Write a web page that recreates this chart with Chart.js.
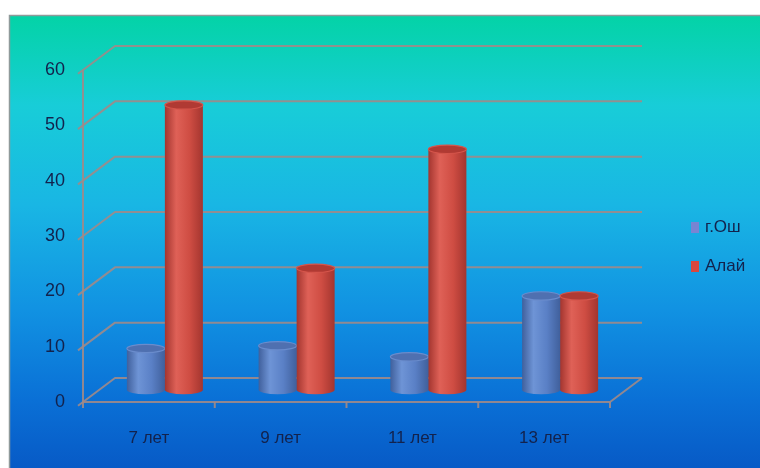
<!DOCTYPE html>
<html lang="ru">
<head>
<meta charset="UTF-8">
<title>Возраст</title>
<script src="https://cdn.jsdelivr.net/npm/chart.js"></script>
<style>
  html, body { margin: 0; padding: 0; background: #fff; }
  #chart { display: block; }
</style>
</head>
<body>
<canvas id="chart" width="760" height="468"></canvas>
<script>
  // данные
  const categories = ['7 лет', '9 лет', '11 лет', '13 лет'];
  const seriesNames = ['г.Ош', 'Алай'];
  const oshValues = [7.5, 8, 6, 17];
  const alaiValues = [51.5, 22, 43.5, 17];
  const yTicks = [0, 10, 20, 30, 40, 50, 60];

  const FONT = '"Liberation Sans", Arial, sans-serif';
  const TEXT = '#13224c';
  const LINE = 'rgba(160,138,136,0.9)';
  // смещение задней стенки (псевдо-3D)
  const DX = 32, DY = -24;

  // цвета цилиндров: край, блик, основной, верх
  const shades = [
    { edge: '#40609c', light: '#6e94d6', main: '#5a80c6', top: '#4f70b0', rim: '#6a8ccc' },
    { edge: '#a3352f', light: '#df6157', main: '#cf4d43', top: '#b03a33', rim: '#d5554b' }
  ];

  const background = {
    id: 'background',
    beforeDraw(chart) {
      const ctx = chart.ctx;
      ctx.save();
      ctx.fillStyle = '#ffffff';
      ctx.fillRect(0, 0, chart.width, chart.height);
      const g = ctx.createLinearGradient(0, 15, 0, chart.height);
      g.addColorStop(0, '#03d3a6');
      g.addColorStop(0.2, '#18cdd8');
      g.addColorStop(0.42, '#19b6e4');
      g.addColorStop(0.65, '#1192e2');
      g.addColorStop(0.85, '#0a70d6');
      g.addColorStop(1, '#075ac6');
      ctx.fillStyle = g;
      ctx.fillRect(9, 15, chart.width - 9, chart.height - 15);
      ctx.strokeStyle = '#8f9a9a';
      ctx.lineWidth = 1.5;
      ctx.beginPath();
      ctx.moveTo(9.5, chart.height);
      ctx.lineTo(9.5, 15.5);
      ctx.lineTo(chart.width, 15.5);
      ctx.stroke();
      ctx.restore();
    }
  };

  // стенки, пол и оси
  const frame3d = {
    id: 'frame3d',
    beforeDatasetsDraw(chart) {
      const { ctx, chartArea: a, scales: { x, y } } = chart;
      ctx.save();
      ctx.strokeStyle = LINE;
      ctx.lineWidth = 2;
      ctx.lineJoin = 'round';

      yTicks.forEach(v => {
        const py = y.getPixelForValue(v);
        ctx.beginPath();
        ctx.moveTo(a.left - 5, py + 3.75);
        ctx.lineTo(a.left + DX, py + DY);
        ctx.lineTo(a.right + DX, py + DY);
        ctx.stroke();
      });

      // пол и передняя ось
      ctx.beginPath();
      ctx.moveTo(a.left, y.getPixelForValue(60));
      ctx.lineTo(a.left, a.bottom);
      ctx.lineTo(a.right, a.bottom);
      ctx.lineTo(a.right + DX, a.bottom + DY);
      ctx.stroke();

      // засечки категорий
      const step = x.getPixelForValue(1) - x.getPixelForValue(0);
      for (let i = 0; i <= categories.length; i++) {
        const px = x.getPixelForValue(0) - step / 2 + i * step;
        ctx.beginPath();
        ctx.moveTo(px, a.bottom);
        ctx.lineTo(px, a.bottom + 6);
        ctx.stroke();
      }
      ctx.restore();
    },
    beforeDatasetDraw() {
      return false;
    },
    afterDatasetsDraw(chart) {
      const ctx = chart.ctx;
      const n = categories.length;
      for (let i = 0; i < n; i++) {
        chart.data.datasets.forEach((ds, di) => {
          const bar = chart.getDatasetMeta(di).data[i];
          const p = bar.getProps(['x', 'y', 'base', 'width'], true);
          drawCylinder(ctx, p.x + DX / 2, p.y + DY / 2, p.base + DY / 2, p.width, shades[di]);
        });
      }
    },
    afterDraw(chart) {
      // легенда
      const ctx = chart.ctx;
      ctx.save();
      ctx.font = '17px ' + FONT;
      ctx.textBaseline = 'middle';
      chart.data.datasets.forEach((ds, i) => {
        const cy = 227 + i * 39;
        ctx.fillStyle = ds.backgroundColor;
        ctx.fillRect(691, cy - 5, 8, 11);
        ctx.fillStyle = TEXT;
        ctx.fillText(ds.label, 705, cy);
      });
      ctx.restore();
    }
  };

  function drawCylinder(ctx, cx, top, base, w, c) {
    const rx = w / 2, ry = w * 0.11;
    const left = cx - rx, right = cx + rx;
    ctx.save();
    const g = ctx.createLinearGradient(left, 0, right, 0);
    g.addColorStop(0, c.edge);
    g.addColorStop(0.3, c.light);
    g.addColorStop(0.65, c.main);
    g.addColorStop(1, c.edge);
    ctx.fillStyle = g;
    ctx.beginPath();
    ctx.moveTo(left, top);
    ctx.lineTo(left, base);
    ctx.ellipse(cx, base, rx, ry, 0, Math.PI, 0, true);
    ctx.lineTo(right, top);
    ctx.closePath();
    ctx.fill();

    ctx.beginPath();
    ctx.ellipse(cx, top, rx, ry, 0, 0, Math.PI * 2);
    ctx.fillStyle = c.top;
    ctx.fill();
    ctx.lineWidth = 1.2;
    ctx.strokeStyle = c.rim;
    ctx.stroke();
    ctx.restore();
  }

  new Chart(document.getElementById('chart'), {
    type: 'bar',
    data: {
      labels: categories,
      datasets: [
        { label: seriesNames[0], data: oshValues, backgroundColor: '#7a84d2' },
        { label: seriesNames[1], data: alaiValues, backgroundColor: '#d9473d' }
      ]
    },
    options: {
      responsive: false,
      animation: false,
      datasets: { bar: { categoryPercentage: 0.577, barPercentage: 1 } },
      layout: { padding: { top: 70, right: 150, left: 0, bottom: 0 } },
      plugins: { legend: { display: false }, tooltip: { enabled: false } },
      scales: {
        x: {
          grid: { display: false, drawTicks: false },
          border: { display: false },
          ticks: { color: TEXT, font: { family: FONT, size: 17 }, padding: 26 },
          afterFit: s => { s.height = 66; }
        },
        y: {
          min: 0,
          max: 60,
          grid: { display: false, drawTicks: false },
          border: { display: false },
          ticks: { stepSize: 10, color: TEXT, font: { family: FONT, size: 18 }, padding: 18 },
          afterFit: s => { s.width = 83; }
        }
      }
    },
    plugins: [background, frame3d]
  });
</script>
</body>
</html>
